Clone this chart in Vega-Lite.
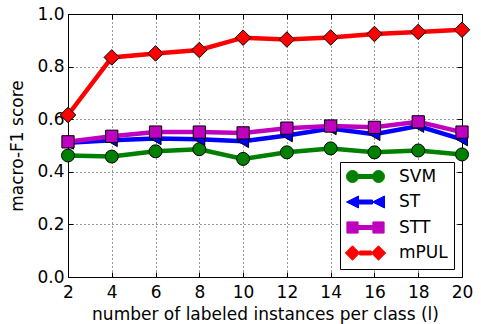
{
  "$schema": "https://vega.github.io/schema/vega-lite/v6.json",
  "width": 394,
  "height": 263,
  "autosize": {"type": "none"},
  "padding": {"left": 68, "top": 14, "right": 19, "bottom": 47},
  "config": {
    "view": {"stroke": "black", "strokeWidth": 1},
    "font": "DejaVu Sans",
    "axis": {
      "labelFont": "DejaVu Sans", "titleFont": "DejaVu Sans",
      "labelFontSize": 17, "titleFontSize": 17, "titleFontWeight": "normal",
      "labelColor": "black", "titleColor": "black",
      "tickColor": "black", "tickSize": -5, "tickWidth": 1,
      "domain": false
    },
    "point": {"filled": true, "stroke": "black", "strokeWidth": 1, "opacity": 1}
  },
  "data": {"values": [
    {"x": 2, "series": "SVM", "y": 0.462}, {"x": 4, "series": "SVM", "y": 0.458}, {"x": 6, "series": "SVM", "y": 0.478}, {"x": 8, "series": "SVM", "y": 0.486}, {"x": 10, "series": "SVM", "y": 0.449},
    {"x": 12, "series": "SVM", "y": 0.474}, {"x": 14, "series": "SVM", "y": 0.489}, {"x": 16, "series": "SVM", "y": 0.474}, {"x": 18, "series": "SVM", "y": 0.481}, {"x": 20, "series": "SVM", "y": 0.466},
    {"x": 2, "series": "ST", "y": 0.510}, {"x": 4, "series": "ST", "y": 0.520}, {"x": 6, "series": "ST", "y": 0.527}, {"x": 8, "series": "ST", "y": 0.524}, {"x": 10, "series": "ST", "y": 0.516},
    {"x": 12, "series": "ST", "y": 0.538}, {"x": 14, "series": "ST", "y": 0.565}, {"x": 16, "series": "ST", "y": 0.543}, {"x": 18, "series": "ST", "y": 0.574}, {"x": 20, "series": "ST", "y": 0.523},
    {"x": 2, "series": "STT", "y": 0.514}, {"x": 4, "series": "STT", "y": 0.535}, {"x": 6, "series": "STT", "y": 0.551}, {"x": 8, "series": "STT", "y": 0.551}, {"x": 10, "series": "STT", "y": 0.548},
    {"x": 12, "series": "STT", "y": 0.566}, {"x": 14, "series": "STT", "y": 0.574}, {"x": 16, "series": "STT", "y": 0.569}, {"x": 18, "series": "STT", "y": 0.590}, {"x": 20, "series": "STT", "y": 0.551},
    {"x": 2, "series": "mPUL", "y": 0.616}, {"x": 4, "series": "mPUL", "y": 0.835}, {"x": 6, "series": "mPUL", "y": 0.850}, {"x": 8, "series": "mPUL", "y": 0.863}, {"x": 10, "series": "mPUL", "y": 0.910},
    {"x": 12, "series": "mPUL", "y": 0.903}, {"x": 14, "series": "mPUL", "y": 0.911}, {"x": 16, "series": "mPUL", "y": 0.924}, {"x": 18, "series": "mPUL", "y": 0.932}, {"x": 20, "series": "mPUL", "y": 0.940}
  ]},
  "layer": [
    {
      "mark": {"type": "line", "strokeWidth": 4.5},
      "encoding": {
        "x": {"field": "x", "type": "quantitative", "scale": {"domain": [2, 20], "nice": false, "zero": false},
          "axis": {"orient": "bottom", "values": [2, 4, 6, 8, 10, 12, 14, 16, 18, 20], "grid": true, "gridColor": "black", "gridDash": [1, 3], "gridOpacity": 0.8,
            "labelPadding": 12, "titlePadding": 6, "title": "number of labeled instances per class (l)", "labelFlush": false}},
        "y": {"field": "y", "type": "quantitative", "scale": {"domain": [0, 1], "nice": false},
          "axis": {"orient": "left", "values": [0, 0.2, 0.4, 0.6, 0.8, 1.0], "format": ".1f", "grid": true, "gridColor": "black", "gridDash": [1, 3], "gridOpacity": 0.8,
            "labelPadding": 9, "titlePadding": 10, "title": "macro-F1 score"}},
        "color": {"field": "series", "type": "nominal",
          "scale": {"domain": ["SVM", "ST", "STT", "mPUL"], "range": ["#008000", "#0000ff", "#bf00bf", "#ff0000"]},
          "legend": {
            "title": null, "orient": "bottom-right", "offset": 8, "padding": 6,
            "strokeColor": "black", "fillColor": "white", "cornerRadius": 0,
            "symbolSize": 256, "labelOffset": 36, "rowPadding": 7.5,
            "labelFontSize": 17, "labelFont": "DejaVu Sans", "labelColor": "black",
            "encode": {"symbols": {"update": {
              "shape": {"signal": "datum.value === 'SVM' ? 'M-1,0A0.75,0.75,0,1,0,0.5,0A0.75,0.75,0,1,0,-1,0ZM2.25,0A0.75,0.75,0,1,0,3.75,0A0.75,0.75,0,1,0,2.25,0ZM0.5,-0.25L2.25,-0.25L2.25,0.25L0.5,0.25Z' : datum.value === 'ST' ? 'M-1,0L0.5,-0.75L0.5,0.75ZM2.25,0L3.75,-0.75L3.75,0.75ZM0.5,-0.25L2.25,-0.25L2.25,0.25L0.5,0.25Z' : datum.value === 'STT' ? 'M-0.95,-0.7L0.45,-0.7L0.45,0.7L-0.95,0.7ZM2.3,-0.7L3.7,-0.7L3.7,0.7L2.3,0.7ZM0.45,-0.25L2.3,-0.25L2.3,0.25L0.45,0.25Z' : 'M-1.15,0L-0.25,-0.9L0.65,0L-0.25,0.9ZM2.1,0L3,-0.9L3.9,0L3,0.9ZM0.65,-0.25L2.1,-0.25L2.1,0.25L0.65,0.25Z'"},
              "fill": {"scale": "color", "field": "value"},
              "stroke": {"value": "black"},
              "strokeWidth": {"value": 1},
              "opacity": {"value": 1},
              "size": {"value": 256}
            }}}
          }}
      }
    },
    {
      "transform": [{"filter": "datum.series === 'SVM'"}],
      "mark": {"type": "point", "shape": "circle", "size": 169},
      "encoding": {
        "x": {"field": "x", "type": "quantitative",
          "axis": {"orient": "top", "values": [2, 4, 6, 8, 10, 12, 14, 16, 18, 20], "labels": false, "grid": false, "title": null}},
        "y": {"field": "y", "type": "quantitative",
          "axis": {"orient": "right", "values": [0, 0.2, 0.4, 0.6, 0.8, 1.0], "labels": false, "grid": false, "title": null}},
        "color": {"field": "series", "type": "nominal", "legend": null}
      }
    },
    {
      "transform": [{"filter": "datum.series === 'ST'"}],
      "mark": {"type": "point", "shape": "triangle-left", "size": 160},
      "encoding": {
        "x": {"field": "x", "type": "quantitative", "axis": null},
        "y": {"field": "y", "type": "quantitative", "axis": null},
        "color": {"field": "series", "type": "nominal", "legend": null}
      }
    },
    {
      "transform": [{"filter": "datum.series === 'STT'"}],
      "mark": {"type": "point", "shape": "square", "size": 150},
      "encoding": {
        "x": {"field": "x", "type": "quantitative", "axis": null},
        "y": {"field": "y", "type": "quantitative", "axis": null},
        "color": {"field": "series", "type": "nominal", "legend": null}
      }
    },
    {
      "transform": [{"filter": "datum.series === 'mPUL'"}],
      "mark": {"type": "point", "shape": "diamond", "size": 240},
      "encoding": {
        "x": {"field": "x", "type": "quantitative", "axis": null},
        "y": {"field": "y", "type": "quantitative", "axis": null},
        "color": {"field": "series", "type": "nominal", "legend": null}
      }
    }
  ],
  "resolve": {"axis": {"x": "independent", "y": "independent"}}
}
